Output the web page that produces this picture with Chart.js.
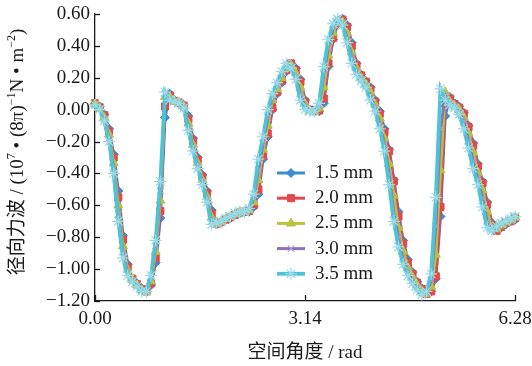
<!DOCTYPE html>
<html><head><meta charset="utf-8">
<script src="https://cdn.jsdelivr.net/npm/chart.js@4.4.0/dist/chart.umd.min.js"></script>
<style>html,body{margin:0;padding:0;background:#fff;}canvas{display:block;}</style>
</head><body>
<canvas id="c" width="532" height="366"></canvas>
<script>
// Spatial angle (degrees) of the sample points
const angleDeg = [0,4,8,12,16,20,24,28,32,36,40,44,48,52,56,60,64,68,72,76,80,84,88,92,96,100,104,108,112,116,120,124,128,132,136,140,144,148,152,156,160,164,168,172,176,180,184,188,192,196,200,204,208,212,216,220,224,228,232,236,240,244,248,252,256,260,264,268,272,276,280,284,288,292,296,300,304,308,312,316,320,324,328,332,336,340,344,348,352,356,360];
const seriesLabels = ['1.5 mm','2.0 mm','2.5 mm','3.0 mm','3.5 mm'];
const s15 = [0.04,0.02,-0.03,-0.12,-0.28,-0.51,-0.79,-0.97,-1.06,-1.09,-1.12,-1.14,-1.10,-0.96,-0.68,-0.05,
 0.10,0.06,0.04,0.03,-0.04,-0.18,-0.30,-0.41,-0.51,-0.63,-0.72,-0.71,-0.69,-0.68,-0.66,
 -0.65,-0.64,-0.64,-0.61,-0.53,-0.31,-0.17,0.00,0.10,0.17,0.24,0.29,0.26,0.19,0.06,
 0.00,-0.01,-0.01,0.04,0.27,0.44,0.54,0.57,0.53,0.42,0.29,0.22,0.18,0.14,0.06,
 -0.01,-0.12,-0.25,-0.44,-0.64,-0.82,-0.94,-1.02,-1.08,-1.12,-1.15,-1.14,-1.06,-0.67,-0.04,
 0.08,0.04,0.02,-0.02,-0.10,-0.21,-0.34,-0.45,-0.58,-0.71,-0.75,-0.74,-0.72,-0.70,-0.69];
const s20 = [0.04,0.015,-0.035,-0.135,-0.30,-0.55,-0.815,-0.985,-1.06,-1.095,-1.125,-1.14,-1.09,-0.93,-0.635,0.02,
 0.09,0.055,0.045,0.025,-0.06,-0.195,-0.315,-0.42,-0.525,-0.65,-0.715,-0.705,-0.69,-0.675,-0.66,
 -0.645,-0.64,-0.635,-0.60,-0.50,-0.29,-0.15,0.01,0.11,0.18,0.25,0.29,0.25,0.175,0.05,
 0.0,-0.01,-0.005,0.07,0.29,0.45,0.545,0.565,0.52,0.40,0.28,0.215,0.175,0.13,0.05,
 -0.025,-0.14,-0.26,-0.45,-0.67,-0.84,-0.96,-1.03,-1.085,-1.125,-1.155,-1.14,-1.045,-0.61,0.04,
 0.07,0.035,0.012,-0.025,-0.11,-0.225,-0.355,-0.46,-0.595,-0.725,-0.76,-0.735,-0.71,-0.70,-0.68];
const s25 = [0.035,0.01,-0.05,-0.155,-0.335,-0.60,-0.855,-1.005,-1.065,-1.10,-1.13,-1.14,-1.075,-0.89,-0.57,0.08,
 0.08,0.053,0.043,0.02,-0.085,-0.22,-0.335,-0.44,-0.545,-0.675,-0.715,-0.705,-0.685,-0.67,-0.655,
 -0.64,-0.64,-0.63,-0.58,-0.44,-0.25,-0.10,0.06,0.13,0.20,0.26,0.28,0.23,0.14,0.035,
 -0.005,-0.01,0.01,0.14,0.34,0.48,0.555,0.55,0.48,0.36,0.26,0.20,0.16,0.11,0.03,
 -0.055,-0.18,-0.34,-0.54,-0.74,-0.89,-0.99,-1.05,-1.10,-1.14,-1.155,-1.11,-0.91,-0.38,0.11,
 0.05,0.025,0.0,-0.05,-0.15,-0.27,-0.395,-0.505,-0.64,-0.745,-0.75,-0.725,-0.705,-0.695,-0.675];
const s30 = [0.03,0.005,-0.06,-0.18,-0.37,-0.655,-0.895,-1.025,-1.075,-1.105,-1.135,-1.14,-1.055,-0.855,-0.51,0.10,
 0.07,0.052,0.042,0.015,-0.11,-0.24,-0.355,-0.455,-0.565,-0.70,-0.712,-0.702,-0.682,-0.668,-0.652,
 -0.64,-0.64,-0.625,-0.555,-0.38,-0.21,-0.05,0.08,0.155,0.22,0.275,0.27,0.21,0.10,0.02,
 -0.007,-0.01,0.025,0.22,0.39,0.51,0.565,0.54,0.45,0.33,0.24,0.19,0.15,0.085,0.01,
 -0.09,-0.22,-0.40,-0.65,-0.80,-0.94,-1.02,-1.07,-1.115,-1.15,-1.15,-1.07,-0.73,-0.12,0.09,
 0.04,0.02,-0.015,-0.07,-0.195,-0.32,-0.43,-0.555,-0.70,-0.755,-0.74,-0.715,-0.705,-0.69,-0.67];
const s35 = [0.03,0.00,-0.07,-0.20,-0.40,-0.70,-0.93,-1.04,-1.08,-1.11,-1.14,-1.14,-1.04,-0.82,-0.45,0.11,
 0.06,0.05,0.04,0.01,-0.13,-0.26,-0.37,-0.47,-0.58,-0.72,-0.71,-0.70,-0.68,-0.67,-0.65,
 -0.64,-0.64,-0.62,-0.53,-0.31,-0.17,0.00,0.10,0.17,0.24,0.29,0.26,0.19,0.06,0.00,
 -0.01,-0.01,0.04,0.27,0.44,0.54,0.57,0.53,0.42,0.29,0.22,0.18,0.14,0.06,-0.01,
 -0.12,-0.26,-0.47,-0.70,-0.86,-0.97,-1.04,-1.09,-1.13,-1.16,-1.14,-1.03,-0.55,0.13,0.06,
 0.03,0.01,-0.03,-0.12,-0.24,-0.37,-0.47,-0.61,-0.74,-0.76,-0.73,-0.71,-0.70,-0.68,-0.67];
const xTickValues = [0, 3.14, 6.28];
const yTickValues = [-1.2,-1.0,-0.8,-0.6,-0.4,-0.2,0,0.2,0.4,0.6];
const yTitleParts = [['径向力波 / (10',0],['7',1],[' • (8π)',0],['\u22121',1],['N • m',0],['\u22122',1],[')',0]];
const xTitle = '空间角度 / rad';

const allSeries = [s15, s20, s25, s30, s35];
const colors = ['#3B8DD0','#E1494C','#B8C23F','#8D72BF','#4DC3D5'];
const markerBorder = ['#3B8DD0','#E1494C','#B8C23F','#ABA0D3','#9ADBE7'];
const pStyles = ['rectRot','rect','triangle','crossRot','star'];
const pRadius = [4.5,5,5.2,4.6,6];
const pBorderW = [1,1,1,1.2,1.2];
const lineW = [3,3,3,3,3.8];

const SERIF = "'Liberation Serif','Times New Roman',serif";
const MIXED = "'Liberation Serif','Noto Sans CJK SC',serif";

const datasets = allSeries.map((arr, k) => ({
  label: seriesLabels[k],
  data: angleDeg.map((d, i) => ({x: d * Math.PI / 180, y: arr[i]})),
  borderColor: colors[k],
  backgroundColor: colors[k],
  borderWidth: lineW[k],
  pointStyle: pStyles[k],
  pointRadius: pRadius[k],
  pointBorderColor: markerBorder[k],
  pointBackgroundColor: colors[k],
  pointBorderWidth: pBorderW[k],
  tension: 0,
  order: 5 - k,
  clip: false
}));

const bgPlugin = {
  id: 'bg',
  beforeDraw(chart) {
    const ctx = chart.ctx;
    ctx.save(); ctx.fillStyle = '#ffffff'; ctx.fillRect(0, 0, chart.width, chart.height); ctx.restore();
  }
};

const decorPlugin = {
  id: 'decor',
  beforeDatasetsDraw(chart) {
    const ctx = chart.ctx, xs = chart.scales.x, ys = chart.scales.y, a = chart.chartArea;
    ctx.save();
    ctx.strokeStyle = '#1a1a1a'; ctx.lineWidth = 1.3;
    yTickValues.forEach(v => {
      const py = Math.round(ys.getPixelForValue(v)) + 0.5;
      ctx.beginPath(); ctx.moveTo(a.left, py); ctx.lineTo(a.left + 5, py); ctx.stroke();
    });
    xTickValues.forEach(v => {
      const px = Math.round(xs.getPixelForValue(v)) + 0.5;
      ctx.beginPath(); ctx.moveTo(px, a.bottom); ctx.lineTo(px, a.bottom - 6); ctx.stroke();
    });
    ctx.restore();
  },
  afterDraw(chart) {
    const ctx = chart.ctx, a = chart.chartArea;
    ctx.save();
    // legend
    const lx0 = 277, lx1 = 305, tx = 315, y0 = 173, dy = 25.2;
    chart.data.datasets.forEach((ds, k) => {
      const y = y0 + k * dy;
      ctx.strokeStyle = ds.borderColor; ctx.lineWidth = ds.borderWidth;
      ctx.beginPath(); ctx.moveTo(lx0, y); ctx.lineTo(lx1, y); ctx.stroke();
      ctx.fillStyle = ds.pointBackgroundColor; ctx.strokeStyle = ds.pointBorderColor; ctx.lineWidth = ds.pointBorderWidth;
      Chart.helpers.drawPoint(ctx, {pointStyle: ds.pointStyle, radius: ds.pointRadius, rotation: 0, borderWidth: ds.pointBorderWidth}, (lx0 + lx1) / 2, y);
      ctx.fillStyle = '#1a1a1a'; ctx.font = '19px ' + SERIF; ctx.textBaseline = 'middle'; ctx.textAlign = 'left';
      ctx.fillText(ds.label, tx, y);
    });
    // x title
    ctx.fillStyle = '#1a1a1a'; ctx.font = '19px ' + MIXED; ctx.textAlign = 'center'; ctx.textBaseline = 'middle';
    ctx.fillText(xTitle, (a.left + a.right) / 2, 353);
    // y title with superscripts
    ctx.translate(18, 152); ctx.rotate(-Math.PI / 2);
    ctx.textAlign = 'left'; ctx.textBaseline = 'middle';
    const fN = '19px ' + MIXED, fS = '12px ' + SERIF;
    let total = 0;
    yTitleParts.forEach(p => { ctx.font = p[1] ? fS : fN; total += ctx.measureText(p[0]).width; });
    let x = -total / 2;
    yTitleParts.forEach(p => {
      ctx.font = p[1] ? fS : fN;
      ctx.fillText(p[0], x, p[1] ? -6 : 0);
      x += ctx.measureText(p[0]).width;
    });
    ctx.restore();
  }
};

new Chart(document.getElementById('c'), {
  type: 'line',
  data: { datasets },
  options: {
    responsive: false, animation: false, devicePixelRatio: 1,
    layout: { padding: { left: 0, right: 17, top: 14, bottom: 0 } },
    plugins: { legend: { display: false }, tooltip: { enabled: false } },
    scales: {
      x: {
        type: 'linear', min: 0, max: 6.28,
        grid: { display: false, drawTicks: false },
        border: { display: true, color: '#1a1a1a', width: 1.3 },
        afterBuildTicks(s) { s.ticks = xTickValues.map(v => ({ value: v })); },
        afterFit(s) { s.height = 65; s.paddingLeft = 0; s.paddingRight = 0; },
        ticks: { color: '#1a1a1a', font: { family: SERIF, size: 19 }, padding: 7, maxRotation: 0, autoSkip: false,
          callback: v => v.toFixed(2) }
      },
      y: {
        type: 'linear', min: -1.2, max: 0.6,
        grid: { display: false, drawTicks: false },
        border: { display: true, color: '#1a1a1a', width: 1.3 },
        afterBuildTicks(s) { s.ticks = yTickValues.map(v => ({ value: v })); },
        afterFit(s) { s.width = 95; s.paddingTop = 0; s.paddingBottom = 0; },
        ticks: { color: '#1a1a1a', font: { family: SERIF, size: 19 }, padding: 5, autoSkip: false,
          callback: v => (v < 0 ? '\u2212' : '') + Math.abs(v).toFixed(2) }
      }
    }
  },
  plugins: [bgPlugin, decorPlugin]
});
</script>
</body></html>
